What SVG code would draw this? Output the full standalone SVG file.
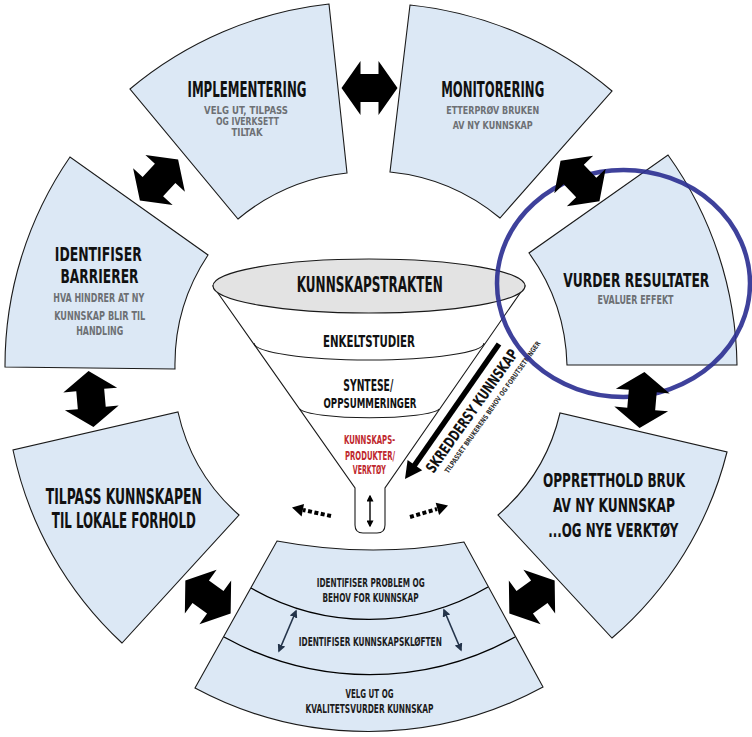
<svg xmlns="http://www.w3.org/2000/svg" width="752" height="737" viewBox="0 0 752 737">
  <style>
    .seg { fill: #dce8f5; stroke: #1a1a1a; stroke-width: 1.1; }
    .t { font-family: "Liberation Sans Narrow", "DejaVu Sans Condensed", "Roboto Condensed", "Liberation Sans", sans-serif; font-weight: 700; text-anchor: middle; font-stretch: condensed; }
    .h { fill: #111; }
    .s { fill: #6d7074; }
    .d { fill: #1c1c1c; }
    .r { fill: #c0282e; }
    .blk { fill: #000; }
    .thin { stroke: #000; stroke-width: 1.4; fill: none; }
    .navy { stroke: #24344a; stroke-width: 1.6; fill: none; }
  </style>
  <defs>
    <marker id="tipBlack" viewBox="0 0 10 10" refX="8" refY="5" markerWidth="5" markerHeight="5" orient="auto-start-reverse">
      <path d="M0,0 L10,5 L0,10 Z" fill="#000"/>
    </marker>
    <marker id="tipNavy" viewBox="0 0 10 10" refX="8" refY="5" markerWidth="5" markerHeight="5" orient="auto-start-reverse">
      <path d="M0,0 L10,5 L0,10 Z" fill="#24344a"/>
    </marker>
    <!-- double-headed block arrow, centred on the origin, pointing along x -->
    <polygon id="dbl" points="-28,0 -9,-27 -9,-14 9,-14 9,-27 28,0 9,27 9,14 -9,14 -9,27"/>
  </defs>

  <rect width="752" height="737" fill="#fff"/>

  <!-- wheel segments -->
  <g id="implementering">
    <path class="seg" d="M130,89 A373,373 0 0 1 329,4 L347,173 A203,203 0 0 0 238,219 Z"/>
    <text class="t h" x="247" y="96.5" font-size="21" textLength="119" lengthAdjust="spacingAndGlyphs">IMPLEMENTERING</text>
    <text class="t s" x="246" y="114" font-size="10" textLength="84" lengthAdjust="spacingAndGlyphs">VELG UT, TILPASS</text>
    <text class="t s" x="247.5" y="125" font-size="10" textLength="63" lengthAdjust="spacingAndGlyphs">OG IVERKSETT</text>
    <text class="t s" x="247" y="136" font-size="10" textLength="31" lengthAdjust="spacingAndGlyphs">TILTAK</text>
  </g>

  <g id="monitorering">
    <path class="seg" d="M410,5 A372,372 0 0 1 612,91 L500,218 A204,204 0 0 0 390,172 Z"/>
    <text class="t h" x="492.7" y="96.7" font-size="21" textLength="103" lengthAdjust="spacingAndGlyphs">MONITORERING</text>
    <text class="t s" x="492.7" y="114" font-size="11" textLength="93" lengthAdjust="spacingAndGlyphs">ETTERPRØV BRUKEN</text>
    <text class="t s" x="492.7" y="129.3" font-size="11" textLength="80" lengthAdjust="spacingAndGlyphs">AV NY KUNNSKAP</text>
  </g>

  <g id="vurder-resultater">
    <path class="seg" d="M668,155 A369,369 0 0 1 737,365 L567,365 A199,199 0 0 0 529,253 Z"/>
    <text class="t h" x="636.3" y="287.3" font-size="19.5" textLength="146" lengthAdjust="spacingAndGlyphs">VURDER RESULTATER</text>
    <text class="t s" x="635.5" y="304" font-size="12" textLength="76" lengthAdjust="spacingAndGlyphs">EVALUER EFFEKT</text>
  </g>

  <g id="oppretthold-bruk">
    <path class="seg" d="M727,452 A361,361 0 0 1 612,638 L498,515 A192,192 0 0 0 560,413 Z"/>
    <text class="t h" x="614" y="486.7" font-size="19" textLength="142" lengthAdjust="spacingAndGlyphs">OPPRETTHOLD BRUK</text>
    <text class="t h" x="614" y="511.7" font-size="19" textLength="122" lengthAdjust="spacingAndGlyphs">AV NY KUNNSKAP</text>
    <text class="t h" x="613.3" y="536.7" font-size="19" textLength="130" lengthAdjust="spacingAndGlyphs">...OG NYE VERKTØY</text>
  </g>

  <g id="kunnskapsgrunnlag">
    <path class="seg" d="M543,687 A366,366 0 0 1 195,688 L277,541 A520,520 0 0 0 464,542 Z"/>
    <path class="thin" d="M251,588 A236,236 0 0 0 488,587" stroke-width="1.1"/>
    <path class="thin" d="M224,637 A300,300 0 0 0 515,637" stroke-width="1.1"/>
    <line class="navy" x1="296" y1="611" x2="279" y2="651" marker-start="url(#tipNavy)" marker-end="url(#tipNavy)"/>
    <line class="navy" x1="444" y1="610" x2="461" y2="650" marker-start="url(#tipNavy)" marker-end="url(#tipNavy)"/>
    <text class="t d" x="370.8" y="586.7" font-size="11.5" textLength="108" lengthAdjust="spacingAndGlyphs">IDENTIFISER PROBLEM OG</text>
    <text class="t d" x="370.5" y="601.7" font-size="11.5" textLength="96" lengthAdjust="spacingAndGlyphs">BEHOV FOR KUNNSKAP</text>
    <text class="t d" x="370.3" y="646" font-size="11.5" textLength="143" lengthAdjust="spacingAndGlyphs">IDENTIFISER KUNNSKAPSKLØFTEN</text>
    <text class="t d" x="369.5" y="697.7" font-size="11.5" textLength="48" lengthAdjust="spacingAndGlyphs">VELG UT OG</text>
    <text class="t d" x="369.5" y="713.3" font-size="11.5" textLength="128" lengthAdjust="spacingAndGlyphs">KVALITETSVURDER KUNNSKAP</text>
  </g>

  <g id="tilpass-kunnskapen">
    <path class="seg" d="M122,643 A365,365 0 0 1 13,450 L178,412 A193,193 0 0 0 239,515 Z"/>
    <text class="t h" x="123.8" y="504" font-size="22" textLength="156" lengthAdjust="spacingAndGlyphs">TILPASS KUNNSKAPEN</text>
    <text class="t h" x="123.8" y="528.3" font-size="22" textLength="144" lengthAdjust="spacingAndGlyphs">TIL LOKALE FORHOLD</text>
  </g>

  <g id="identifiser-barrierer">
    <path class="seg" d="M5,367 A368,368 0 0 1 70,157 L208,255 A198,198 0 0 0 175,369 Z"/>
    <text class="t h" x="98.3" y="260.5" font-size="19" textLength="87" lengthAdjust="spacingAndGlyphs">IDENTIFISER</text>
    <text class="t h" x="99.5" y="283" font-size="19" textLength="78" lengthAdjust="spacingAndGlyphs">BARRIERER</text>
    <text class="t s" x="98.7" y="301.7" font-size="13" textLength="91" lengthAdjust="spacingAndGlyphs">HVA HINDRER AT NY</text>
    <text class="t s" x="99.7" y="320" font-size="13" textLength="91" lengthAdjust="spacingAndGlyphs">KUNNSKAP BLIR TIL</text>
    <text class="t s" x="99.7" y="335" font-size="13" textLength="47" lengthAdjust="spacingAndGlyphs">HANDLING</text>
  </g>

  <!-- knowledge funnel in the hub -->
  <g id="kunnskapstrakten">
    <path d="M213,286 L355,488 L355,525 Q355,533 363,533 L377,533 Q385,533 385,525 L385,488 L525,286 Z" fill="#fff" stroke="#1a1a1a" stroke-width="1.1"/>
    <ellipse cx="369" cy="286" rx="156" ry="27" fill="#e3e3e3" stroke="#1a1a1a" stroke-width="1.1"/>
    <path d="M254,343 A115,17 0 0 0 484,343" fill="none" stroke="#1a1a1a" stroke-width="1.1"/>
    <path d="M300,409 A70,10 0 0 0 439,409" fill="none" stroke="#1a1a1a" stroke-width="1.1"/>
    <line class="thin" x1="370" y1="496" x2="370" y2="526" marker-start="url(#tipBlack)" marker-end="url(#tipBlack)"/>
    <text class="t h" x="369.8" y="291.7" font-size="22" textLength="146" lengthAdjust="spacingAndGlyphs">KUNNSKAPSTRAKTEN</text>
    <text class="t h" x="369" y="346.7" font-size="16" textLength="92" lengthAdjust="spacingAndGlyphs">ENKELTSTUDIER</text>
    <text class="t h" x="368.3" y="390.7" font-size="15" textLength="50" lengthAdjust="spacingAndGlyphs">SYNTESE/</text>
    <text class="t h" x="370" y="408.3" font-size="14" textLength="93" lengthAdjust="spacingAndGlyphs">OPPSUMMERINGER</text>
    <text class="t r" x="369.5" y="444" font-size="12.5" textLength="51" lengthAdjust="spacingAndGlyphs">KUNNSKAPS-</text>
    <text class="t r" x="370" y="460" font-size="12" textLength="50" lengthAdjust="spacingAndGlyphs">PRODUKTER/</text>
    <text class="t r" x="369.3" y="474" font-size="12" textLength="33" lengthAdjust="spacingAndGlyphs">VERKTØY</text>
  </g>

  <!-- tailoring arrow beside the funnel -->
  <g id="skreddersy">
    <line x1="499" y1="344" x2="414" y2="466" stroke="#000" stroke-width="5.5"/>
    <polygon points="405,479 407.6,459.9 422.2,470.3" fill="#000"/>
    <text class="t h" transform="translate(476,414) rotate(-54.6)" font-size="15" textLength="147" lengthAdjust="spacingAndGlyphs">SKREDDERSY KUNNSKAP</text>
    <text class="t" transform="translate(494.5,408.5) rotate(-54.6)" font-size="7" fill="#333" textLength="160" lengthAdjust="spacingAndGlyphs">TILPASSET BRUKERENS BEHOV OG FORUTSETNINGER</text>
  </g>

  <!-- dashed outflow arrows from the funnel neck -->
  <g id="utstromming">
    <line x1="331" y1="516" x2="303" y2="510" stroke="#000" stroke-width="4" stroke-dasharray="4 2.5"/>
    <polygon points="292,507.5 304,504 301.6,516.5" fill="#000"/>
    <line x1="410" y1="517" x2="437" y2="509" stroke="#000" stroke-width="4" stroke-dasharray="4 2.5"/>
    <polygon points="448,505.5 435.7,502.8 439.1,515" fill="#000"/>
  </g>

  <!-- highlight ring -->
  <ellipse id="markering" cx="623.5" cy="283.5" rx="126.5" ry="113.5" fill="none" stroke="#2e3192" stroke-width="4.5" opacity="0.92"/>

  <!-- two-way block arrows between neighbouring steps -->
  <g id="connectors" class="blk">
    <use href="#dbl" transform="translate(369.5,88)"/>
    <use href="#dbl" transform="translate(580,181) rotate(46)"/>
    <use href="#dbl" transform="translate(642,400) rotate(95)"/>
    <use href="#dbl" transform="translate(532,597) rotate(144)"/>
    <use href="#dbl" transform="translate(208,597) rotate(36)"/>
    <use href="#dbl" transform="translate(91,399) rotate(85)"/>
    <use href="#dbl" transform="translate(159,180) rotate(-47)"/>
  </g>
</svg>
